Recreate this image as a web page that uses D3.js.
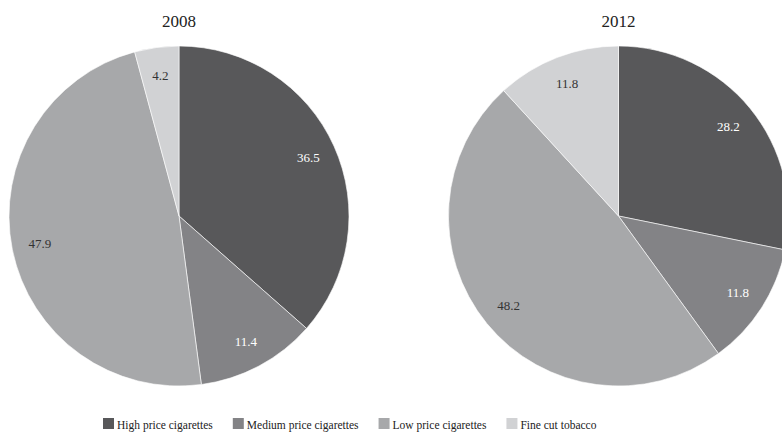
<!DOCTYPE html>
<html>
<head>
<meta charset="utf-8">
<script src="https://cdn.jsdelivr.net/npm/d3@7"></script>
<style>
  body { margin: 0; background: #fff; overflow: hidden; }
  svg { display: block; }
  svg text { font-family: "Liberation Serif", "Times New Roman", serif; }
</style>
</head>
<body>
<div id="main-chart"></div>
<script>
var categories = ["High price cigarettes", "Medium price cigarettes", "Low price cigarettes", "Fine cut tobacco"];
var years = ["2008", "2012"];
var values2008 = [36.5, 11.4, 47.9, 4.2];
var values2012 = [28.2, 11.8, 48.2, 11.8];
var colors = ["#58585a", "#838386", "#a7a8aa", "#d1d2d4"];
var labelColors = ["#ffffff", "#ffffff", "#333333", "#333333"];

var width = 782, height = 433;
var radius = 170;

var svg = d3
  .select("#main-chart")
  .append("svg")
  .attr("width", width)
  .attr("height", height);

var pie = d3.pie().sort(null).value(function(d) { return d; });
var arc = d3.arc().innerRadius(0).outerRadius(radius);
var labelArc = d3.arc().innerRadius(radius * 0.835).outerRadius(radius * 0.835);

var x = d3.scalePoint().domain(years).range([179, 618.5]);

function drawPie(year, values) {
  var g = svg.append("g")
    .attr("transform", "translate(" + x(year) + ",216)");

  g.selectAll("path")
    .data(pie(values))
    .enter()
    .append("path")
    .attr("d", arc)
    .attr("fill", function(d, i) { return colors[i]; })
    .attr("stroke", "#fff")
    .attr("stroke-width", 0.6);

  g.selectAll("text.val")
    .data(pie(values))
    .enter()
    .append("text")
    .attr("class", "val")
    .attr("transform", function(d) { return "translate(" + labelArc.centroid(d) + ")"; })
    .attr("text-anchor", "middle")
    .attr("dy", "0.35em")
    .style("font-size", "13px")
    .attr("fill", function(d, i) { return labelColors[i]; })
    .text(function(d) { return d.data.toFixed(1); });

  svg.append("text")
    .attr("x", x(year))
    .attr("y", 27)
    .attr("text-anchor", "middle")
    .style("font-size", "17px")
    .attr("fill", "#222")
    .text(year);
}

drawPie("2008", values2008);
drawPie("2012", values2012);

// Legend
var legend = svg.append("g").attr("class", "legend");
var lx = 103;
categories.forEach(function(c, i) {
  var item = legend.append("g").attr("transform", "translate(" + lx + ",0)");
  item.append("rect")
    .attr("x", 0)
    .attr("y", 418)
    .attr("width", 11)
    .attr("height", 11)
    .attr("fill", colors[i]);
  var t = item.append("text")
    .attr("x", 14)
    .attr("y", 429)
    .style("font-size", "11.5px")
    .attr("fill", "#222")
    .text(c);
  lx += 14 + t.node().getComputedTextLength() + 20;
});
</script>
</body>
</html>
